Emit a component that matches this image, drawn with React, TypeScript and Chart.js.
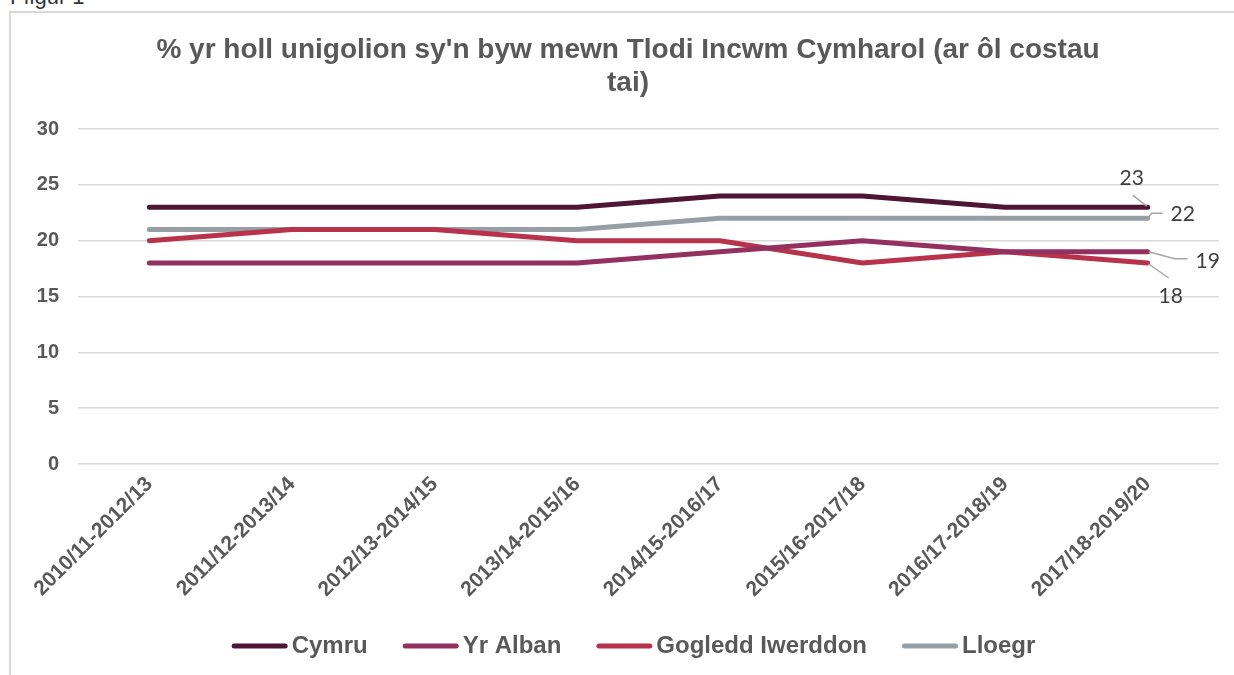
import React, { useEffect, useRef } from "react";
import { Chart, registerables } from "chart.js";

Chart.register(...registerables);

const categories = [
  "2010/11-2012/13",
  "2011/12-2013/14",
  "2012/13-2014/15",
  "2013/14-2015/16",
  "2014/15-2016/17",
  "2015/16-2017/18",
  "2016/17-2018/19",
  "2017/18-2019/20",
];

const cymru = [23, 23, 23, 23, 24, 24, 23, 23];
const yrAlban = [18, 18, 18, 18, 19, 20, 19, 19];
const gogleddIwerddon = [20, 21, 21, 20, 20, 18, 19, 18];
const lloegr = [21, 21, 21, 21, 22, 22, 22, 22];

const seriesNames = ["Cymru", "Yr Alban", "Gogledd Iwerddon", "Lloegr"];
const seriesColors = ["#4F1535", "#933060", "#B8324B", "#969EA6"];

const titleLines = [
  "% yr holl unigolion sy'n byw mewn Tlodi Incwm Cymharol (ar ôl costau",
  "tai)",
];

// label placement for end-of-series data labels (text offset, leader path)
const endLabelStyle: Record<number, { tx: number; ty: number; path: number[][] }> = {
  0: { tx: -16, ty: -29, path: [[-1, -1], [-15, -12]] },
  3: { tx: 35, ty: -4, path: [[1, -1], [4, -5], [15, -5]] },
  1: { tx: 60, ty: 9, path: [[1, 0], [27, 7], [40, 7]] },
  2: { tx: 23, ty: 33, path: [[1, 1], [21, 15]] },
};

const FONT = "'Liberation Sans', Arial, sans-serif";
const TEXT = "#595959";

const decorPlugin = {
  id: "decor",
  afterDraw(chart: any) {
    const ctx = chart.ctx;
    const area = chart.chartArea;
    ctx.save();
    // title
    ctx.fillStyle = TEXT;
    ctx.font = `bold 28px ${FONT}`;
    ctx.textAlign = "center";
    ctx.textBaseline = "alphabetic";
    const tcx = 628;
    titleLines.forEach((l, i) => ctx.fillText(l, tcx, 58 + i * 33));

    // end labels
    chart.data.datasets.forEach((ds: any, i: number) => {
      const meta = chart.getDatasetMeta(i);
      const pt = meta.data[meta.data.length - 1];
      const st = endLabelStyle[i];
      if (!pt || !st) return;
      ctx.strokeStyle = "#A6A6A6";
      ctx.lineWidth = 1.5;
      ctx.beginPath();
      st.path.forEach((p, k) => {
        if (k === 0) ctx.moveTo(pt.x + p[0], pt.y + p[1]);
        else ctx.lineTo(pt.x + p[0], pt.y + p[1]);
      });
      ctx.stroke();
      ctx.fillStyle = "#404040";
      ctx.font = `21px Lato, 'Open Sans', sans-serif`;
      ctx.textAlign = "center";
      ctx.textBaseline = "middle";
      ctx.fillText(String(ds.data[ds.data.length - 1]), pt.x + st.tx, pt.y + st.ty);
    });

    // legend
    ctx.font = `bold 24px ${FONT}`;
    ctx.textBaseline = "middle";
    ctx.textAlign = "left";
    const lineLen = 56;
    const gap = 4;
    const itemGap = 35;
    const widths = chart.data.datasets.map(
      (ds: any) => lineLen + gap + ctx.measureText(ds.label).width
    );
    const total = widths.reduce((a: number, b: number) => a + b, 0) + itemGap * (widths.length - 1);
    let x = (area.left + area.right) / 2 - 15 - total / 2;
    const y = 646;
    chart.data.datasets.forEach((ds: any, i: number) => {
      ctx.strokeStyle = ds.borderColor;
      ctx.lineWidth = 5;
      ctx.lineCap = "round";
      ctx.beginPath();
      ctx.moveTo(x + 2.5, y);
      ctx.lineTo(x + lineLen - 2.5, y);
      ctx.stroke();
      ctx.fillStyle = TEXT;
      ctx.fillText(ds.label, x + lineLen + gap, y);
      x += widths[i] + itemGap;
    });
    ctx.restore();
  },
};

export default function App() {
  const ref = useRef<HTMLCanvasElement | null>(null);
  useEffect(() => {
    if (!ref.current) return;
    const allData = [cymru, yrAlban, gogleddIwerddon, lloegr];
    const chart = new Chart(ref.current, {
      type: "line",
      data: {
        labels: categories,
        datasets: allData.map((d, i) => ({
          label: seriesNames[i],
          data: d,
          borderColor: seriesColors[i],
          backgroundColor: seriesColors[i],
          borderWidth: 5,
          pointRadius: 0,
          pointHoverRadius: 0,
          borderCapStyle: "round" as const,
          borderJoinStyle: "round" as const,
          tension: 0,
          fill: false,
        })),
      },
      options: {
        animation: false,
        responsive: false,
        maintainAspectRatio: false,
        layout: { padding: { top: 129, right: 15, left: 0, bottom: 0 } },
        plugins: {
          legend: { display: false },
          title: { display: false },
          tooltip: { enabled: false },
        },
        scales: {
          x: {
            offset: true,
            grid: { display: false, drawTicks: false },
            border: { display: false },
            ticks: {
              color: TEXT,
              font: { family: FONT, size: 21, weight: "bold" },
              minRotation: 45,
              maxRotation: 45,
              padding: 8,
              autoSkip: false,
            },
            afterFit(scale: any) {
              scale.height = 211;
            },
          },
          y: {
            min: 0,
            max: 30,
            grid: { color: "#D9D9D9", lineWidth: 1.5, drawTicks: false },
            border: { display: false },
            ticks: {
              stepSize: 5,
              color: TEXT,
              font: { family: FONT, size: 20, weight: "bold" },
              padding: 19,
            },
            afterFit(scale: any) {
              scale.width = 78;
            },
          },
        },
      },
      plugins: [decorPlugin],
    });
    return () => chart.destroy();
  }, []);

  return (
    <div
      style={{
        position: "fixed",
        left: 0,
        top: 0,
        width: 1234,
        height: 675,
        overflow: "hidden",
        background: "#fff",
      }}
    >
      <div
        style={{
          position: "absolute",
          left: 10,
          top: -16,
          fontFamily: FONT,
          fontSize: 22,
          color: "#333",
          lineHeight: "26px",
        }}
      >
        Ffigur 1
      </div>
      <div
        style={{
          position: "absolute",
          left: 9,
          top: 11,
          width: 1300,
          height: 800,
          border: "2px solid #D9D9D9",
          boxSizing: "border-box",
        }}
      />
      <canvas
        ref={ref}
        width={1234}
        height={675}
        style={{ position: "absolute", left: 0, top: 0, width: 1234, height: 675 }}
      />
    </div>
  );
}
